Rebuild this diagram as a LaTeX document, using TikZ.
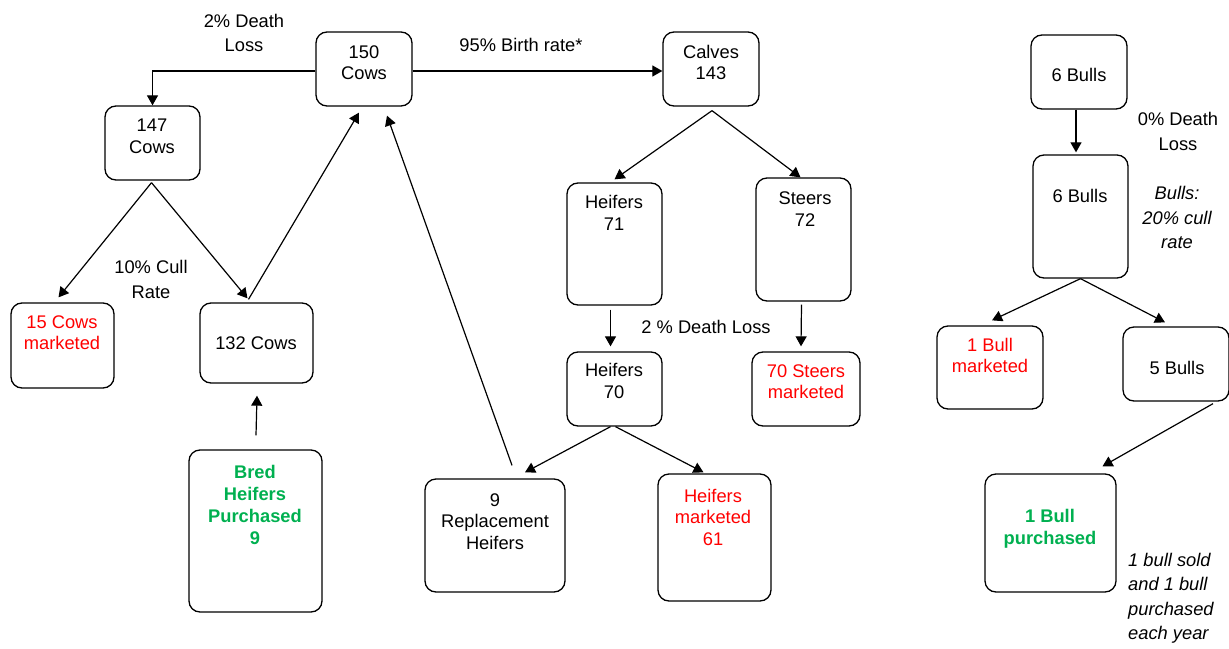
\documentclass[tikz,border=0pt]{standalone}
\usepackage{fontspec}
\setmainfont{Liberation Sans}
\usetikzlibrary{arrows.meta,calc}
\definecolor{mred}{RGB}{255,0,0}
\definecolor{mgreen}{RGB}{0,176,80}
\tikzset{
  box/.style={draw=black,line width=1.3pt,rounded corners=11pt,inner sep=0pt},
  txt/.style={align=center,inner sep=0pt,font=\fontsize{18.3}{21.5}\selectfont},
  lbl/.style={align=center,inner sep=0pt,font=\fontsize{18.3}{24.5}\selectfont},
  arr/.style={line width=1.2pt,-{Triangle[length=10pt,width=11pt]}},
  redt/.style={text=mred},
  greent/.style={text=mgreen,font=\fontsize{18.3}{22}\selectfont\bfseries},
}
\begin{document}
\begin{tikzpicture}[x=1pt,y=-1pt]
\useasboundingbox (0,0) rectangle (1229,648);
% boxes
\node[box,minimum width=96,minimum height=74] (b150) at (364,69) {};
\node[box,minimum width=95,minimum height=74] (b147) at (152.5,143) {};
\node[box,minimum width=103,minimum height=85] (b15) at (62.5,345.5) {};
\node[box,minimum width=113,minimum height=80] (b132) at (256.5,343) {};
\node[box,minimum width=133,minimum height=162] (bred) at (255.5,531) {};
\node[box,minimum width=96,minimum height=74] (calves) at (711,69) {};
\node[box,minimum width=95,minimum height=122] (h71) at (614.5,244) {};
\node[box,minimum width=95,minimum height=123] (s72) at (803.5,239.5) {};
\node[box,minimum width=95,minimum height=74] (h70) at (614.5,389) {};
\node[box,minimum width=108,minimum height=74] (s70) at (806,389) {};
\node[box,minimum width=140,minimum height=113] (rep) at (495,535.5) {};
\node[box,minimum width=113,minimum height=127] (hm61) at (714.5,537.5) {};
\node[box,minimum width=96,minimum height=74] (bulla) at (1079,72) {};
\node[box,minimum width=95,minimum height=123] (bullb) at (1080.5,216.5) {};
\node[box,minimum width=106,minimum height=83] (bm1) at (990,367.5) {};
\node[box,minimum width=106,minimum height=74] (b5) at (1176,364) {};
\node[box,minimum width=131,minimum height=118] (bp1) at (1050.5,533) {};
% box texts
\node[txt] (t150) at (364,62.5) {150\\Cows};
\node[txt] (t147) at (152,136.5) {147\\Cows};
\node[txt,redt] (t15) at (62,332.5) {15 Cows\\marketed};
\node[txt] (t132) at (256,343) {132 Cows};
\node[txt,greent] (tbred) at (255,505) {Bred\\Heifers\\Purchased\\9};
\node[txt] (tcalves) at (711,62.5) {Calves\\143};
\node[txt] (th71) at (614,213) {Heifers\\71};
\node[txt] (ts72) at (805,209) {Steers\\72};
\node[txt] (th70) at (614,381) {Heifers\\70};
\node[txt,redt] (ts70) at (806,381.5) {70 Steers\\marketed};
\node[txt] (trep) at (495,521.5) {9\\Replacement\\Heifers};
\node[txt,redt] (thm61) at (713,517) {Heifers\\marketed\\61};
\node[txt] (tbulla) at (1079,75) {6 Bulls};
\node[txt] (tbullb) at (1080,196) {6 Bulls};
\node[txt,redt] (tbm1) at (990,355.5) {1 Bull\\marketed};
\node[txt] (tb5) at (1177,368) {5 Bulls};
\node[txt,greent] (tbp1) at (1050,528.5) {1 Bull\\purchased};
% labels
\node[lbl] (l1) at (244,33) {2\% Death\\Loss};
\node[lbl] (l2) at (521,45) {95\% Birth rate*};
\node[lbl] (l3) at (151,279.5) {10\% Cull\\Rate};
\node[lbl] (l4) at (706,327) {2 \% Death Loss};
\node[lbl] (l5) at (1178,131.5) {0\% Death\\Loss};
\node[lbl,font=\fontsize{18.3}{24.5}\selectfont\itshape] (l6) at (1177,217.5) {Bulls:\\20\% cull\\rate};
\node[lbl,align=left,anchor=west,font=\fontsize{18.3}{24.5}\selectfont\itshape] (l7) at (1128,598.5) {1 bull sold\\and 1 bull\\purchased\\each year};
% connectors
\draw[arr] ([yshift=-2pt]b150.west) -| (b147.north);
\draw[arr] ([yshift=-2pt]b150.east) -- ([yshift=-2pt]calves.west);
\draw[arr] ($(b147.south)+(-1,2)$) -- ($(b15.north)+(-4,-5)$);
\draw[arr] ($(b147.south)+(-1,2)$) -- ($(b132.north)+(-9,-4)$);
\draw[arr] ($(b132.north)+(-8,-3)$) -- ($(b150.south)+(-5,6)$);
\draw[arr] ($(rep.north)+(17,-13)$) -- ($(b150.south)+(23,9)$);
\draw[arr] ($(bred.north)+(0.5,-14)$) -- ($(b132.south)+(0.5,12)$);
\draw[arr] ($(calves.south)+(1,4)$) -- ($(h71.north)+(0,-3)$);
\draw[arr] ($(calves.south)+(1,4)$) -- ($(s72.north)+(-3,0)$);
\draw[arr] ($(h71.south)+(-4,4)$) -- ($(h70.north)+(-4,-5)$);
\draw[arr] ($(s72.south)+(-2,3)$) -- ($(s70.north)+(-5,-5)$);
\draw[arr] ($(h70.south)+(-4,0)$) -- ($(rep.north)+(30,-6)$);
\draw[arr] ($(h70.south)+(1,0)$) -- ($(hm61.north)+(-11,-1)$);
\draw[arr] ($(bulla.south)+(-3,0)$) -- ($(bullb.north)+(-4.5,-2)$);
\draw[arr] (bullb.south) -- ($(bm1.north)+(2,-5)$);
\draw[arr] (bullb.south) -- ($(b5.north)+(-11,-4)$);
\draw[arr] ($(b5.south)+(37,2)$) -- ($(bp1.north)+(52,-7)$);
\end{tikzpicture}
\end{document}
